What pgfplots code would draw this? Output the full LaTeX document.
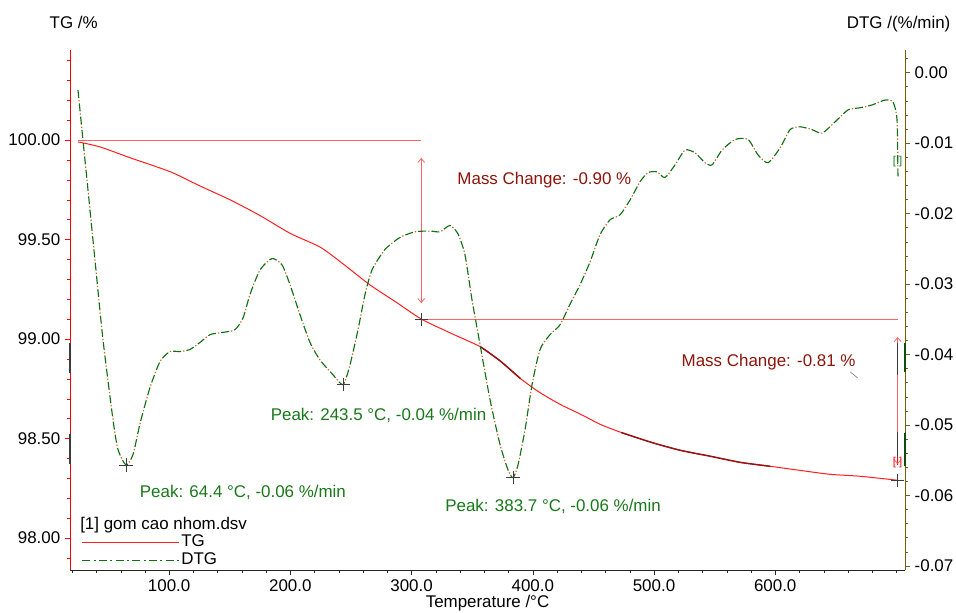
\documentclass[border=0pt]{standalone}
\usepackage{fontspec}
\setmainfont{Liberation Sans}
\usepackage{pgfplots}
\usepackage{pgfplotstable}
\pgfplotsset{compat=1.18}
\usetikzlibrary{arrows.meta}
\definecolor{tgred}{RGB}{255,30,30}
\definecolor{darkseg}{RGB}{150,20,20}
\definecolor{reflred}{RGB}{255,100,100}
\definecolor{dtggreen}{RGB}{20,110,20}
\definecolor{dtgdot}{RGB}{225,90,40}
\definecolor{peakgreen}{RGB}{25,120,25}
\definecolor{masscol}{RGB}{140,20,10}
\definecolor{rightax}{RGB}{115,95,0}
\definecolor{markgray}{RGB}{60,60,60}

\pgfplotstableread{
T TG
25 99.99
43 99.965
68 99.91
101 99.84
125 99.77
150 99.70
175 99.62
200 99.53
225 99.46
245 99.37
266 99.27
286 99.19
308 99.10
332 99.03
357 98.96
373 98.89
390 98.80
406 98.73
423 98.67
440 98.62
456 98.57
473 98.53
498 98.48
522 98.44
547 98.41
571 98.38
596 98.36
620 98.34
645 98.32
670 98.31
701 98.29
}\tgdata

\pgfplotstableread{
T DTG
24.8 -0.0025
28.9 -0.0096
32.2 -0.0152
38.8 -0.0266
45.4 -0.0379
53.7 -0.0493
57.8 -0.0535
64.4 -0.0557
70.2 -0.0542
76.0 -0.0498
84.2 -0.0447
92.5 -0.0410
100.7 -0.0396
109.0 -0.0396
117.2 -0.0393
125.5 -0.0383
133.7 -0.0372
143.6 -0.0369
154.3 -0.0365
161.0 -0.0348
166.7 -0.0315
175.0 -0.0280
184.9 -0.0264
193.1 -0.0273
199.7 -0.0301
208.0 -0.0344
216.2 -0.0383
224.5 -0.0408
235.2 -0.0429
243.5 -0.0443
249.2 -0.0415
255.8 -0.0365
261.6 -0.0315
267.4 -0.0280
278.1 -0.0251
290.5 -0.0234
302.9 -0.0226
315.2 -0.0225
323.5 -0.0226
331.7 -0.0217
338.3 -0.0229
344.1 -0.0259
349.9 -0.0323
356.5 -0.0386
364.7 -0.0464
373.0 -0.0528
379.6 -0.0564
383.7 -0.0575
387.8 -0.0557
393.6 -0.0507
399.4 -0.0443
406.0 -0.0393
414.2 -0.0372
422.5 -0.0358
430.7 -0.0329
439.0 -0.0301
447.2 -0.0269
455.5 -0.0230
463.7 -0.0209
472.0 -0.0202
480.2 -0.0181
488.5 -0.0155
495.1 -0.0142
502.5 -0.0141
509.1 -0.0149
517.4 -0.0131
525.6 -0.0110
533.9 -0.0114
542.1 -0.0128
547.9 -0.0131
556.2 -0.0110
566.9 -0.0095
577.6 -0.0095
585.9 -0.0117
594.1 -0.0128
604.0 -0.0107
612.3 -0.0081
620.5 -0.0077
630.4 -0.0081
638.7 -0.0086
649.4 -0.0070
660.1 -0.0053
670.0 -0.0050
679.9 -0.0046
690.6 -0.0039
697.2 -0.0042
700.5 -0.0067
701.3 -0.0150
}\dtgdata

\begin{document}
\begin{tikzpicture}
\pgfplotsset{
  every axis/.append style={
    scale only axis, width=626.25pt, height=390pt,
    xmin=18.2, xmax=707.1,
    font=\fontsize{12.7}{15}\selectfont,
    tick align=outside,
    major tick length=3.75pt, minor tick length=2.25pt,
    /pgf/number format/assume math mode=true,
    scaled ticks=false,
    clip=false,
  },
}
\begin{axis}[name=ax,
  ymin=97.839, ymax=100.452,
  axis x line*=bottom, axis y line*=left,
  x axis line style={draw=black!85, -}, y axis line style={draw=red, -},
  xtick={100,200,300,400,500,600},
  minor xtick={20,40,...,700},
  ytick={98,98.5,99,99.5,100},
  minor ytick={97.9,98.1,98.2,98.3,98.4,98.6,98.7,98.8,98.9,99.1,99.2,99.3,99.4,99.6,99.7,99.8,99.9,100.1,100.2,100.3,100.4},
  xticklabel style={/pgf/number format/.cd, fixed, fixed zerofill, precision=1},
  yticklabel style={/pgf/number format/.cd, fixed, fixed zerofill, precision=2},
  x tick style={black!85}, y tick style={red},
  xlabel={Temperature /°C}, ylabel={TG /\%},
  every axis x label/.style={at={(axis description cs:0.5,-0.073)}, anchor=base},
  every axis y label/.style={at={(axis description cs:-0.03,1.042)}, anchor=base west},
  legend style={at={(axis description cs:0.014,0.071)}, anchor=north west, draw=none, fill=none,
    inner sep=0pt, row sep=0pt, font=\fontsize{12.7}{15}\selectfont,
    nodes={inner sep=1pt, text height=9pt, text depth=2.5pt}},
  legend cell align=left,
  legend image code/.code={\draw[#1] (0pt,0pt) -- (72.75pt,0pt);},
]
\addplot[tgred, line width=0.75pt, smooth, tension=0.4] table[x=T,y=TG] {\tgdata};
\addlegendentry{TG}
\addlegendimage{dtggreen, line width=0.8pt, dash pattern=on 6pt off 2.5pt on 1.5pt off 2.5pt}
\addlegendentry{DTG}
\addplot[darkseg, line width=1.1pt, smooth, tension=0.4, forget plot, restrict x to domain=355:395] table[x=T,y=TG] {\tgdata};
\addplot[darkseg, line width=1.1pt, smooth, tension=0.4, forget plot, restrict x to domain=470:600] table[x=T,y=TG] {\tgdata};
% reference lines and arrows
\draw[reflred, line width=0.6pt] (axis cs:25,100) -- (axis cs:308,100);
\draw[reflred, line width=0.6pt] (axis cs:308,99.10) -- (axis cs:701,99.10);
\draw[reflred, line width=0.6pt, {Straight Barb[length=3pt,width=5pt]}-{Straight Barb[length=3pt,width=5pt]}] (axis cs:308,99.91) -- (axis cs:308,99.18);
\draw[reflred, line width=0.6pt, {Straight Barb[length=3pt,width=5pt]}-{Straight Barb[length=3pt,width=5pt]}] (axis cs:701,99.01) -- (axis cs:701,98.37);
\draw[markgray, line width=0.7pt] (axis cs:701,98.98) -- (axis cs:701,98.82);
\draw[markgray, line width=0.7pt] (axis cs:701,98.53) -- (axis cs:701,98.39);
\addplot[only marks, mark=+, mark size=4.9pt, markgray, line width=0.7pt, forget plot] coordinates {(308,99.10) (701,98.29)};
% left axis markers
\draw[markgray, line width=1.6pt] (axis cs:18.2,98.98) -- (axis cs:18.2,98.83);
\draw[markgray, line width=1.6pt] (axis cs:18.2,98.52) -- (axis cs:18.2,98.37);
% texts
\node[anchor=base west, masscol] at (axis cs:334,99.774) {Mass Change: -0.90 \%};
\node[anchor=base west, masscol] at (axis cs:519,98.864) {Mass Change: -0.81 \%};
\draw[gray, line width=0.5pt] (axis cs:662,98.834) -- (axis cs:668,98.804);
\node[anchor=base west, peakgreen] at (axis cs:180,98.588) {Peak: 243.5 °C, -0.04 \%/min};
\node[anchor=base west, peakgreen] at (axis cs:72,98.201) {Peak: 64.4 °C, -0.06 \%/min};
\node[anchor=base west, peakgreen] at (axis cs:324,98.131) {Peak: 383.7 °C, -0.06 \%/min};
\node[peakgreen, font=\fontsize{8.5}{9}\selectfont, inner sep=0pt] at (axis cs:701,99.889) {[!]};
\node[red, font=\fontsize{8.5}{9}\selectfont, inner sep=0pt] at (axis cs:701,98.377) {[!]};
\node[anchor=base west, inner sep=0pt] at (axis description cs:0.012,0.077) {[1] gom cao nhom.dsv};
\end{axis}

\begin{axis}[
  ymin=-0.0706, ymax=0.0032,
  axis x line=none, axis y line*=right,
  y axis line style={draw=rightax, -},
  yticklabel pos=right,
  ytick={-0.07,-0.06,-0.05,-0.04,-0.03,-0.02,-0.01,0},
  minor ytick={-0.068,-0.066,-0.064,-0.062,-0.058,-0.056,-0.054,-0.052,-0.048,-0.046,-0.044,-0.042,-0.038,-0.036,-0.034,-0.032,-0.028,-0.026,-0.024,-0.022,-0.018,-0.016,-0.014,-0.012,-0.008,-0.006,-0.004,-0.002,0.002},
  y tick style={rightax},
  yticklabel style={/pgf/number format/.cd, fixed, fixed zerofill, precision=2},
  ylabel={DTG /(\%/min)},
  every axis y label/.style={at={(axis description cs:1.06,1.042)}, anchor=base east},
]
\addplot[dtggreen, line width=0.85pt, smooth, tension=0.4, dash pattern=on 6pt off 4pt] table[x=T,y=DTG] {\dtgdata};
\addplot[dtgdot, line width=0.85pt, smooth, tension=0.4, dash pattern=on 1pt off 9pt, dash phase=2.5pt] table[x=T,y=DTG] {\dtgdata};
\addplot[only marks, mark=+, mark size=4.9pt, markgray, line width=0.7pt] coordinates {(64.4,-0.0557) (243.5,-0.0443) (383.7,-0.0575)};
\draw[dtggreen!70!black, line width=1.6pt] (axis cs:707.1,-0.0384) -- (axis cs:707.1,-0.0425);
\draw[dtggreen!70!black, line width=1.6pt] (axis cs:707.1,-0.0511) -- (axis cs:707.1,-0.0559);
\end{axis}
\pgfresetboundingbox
\path ([shift={(-52.5pt,-32.25pt)}]ax.south west) rectangle ([shift={(38.25pt,37.5pt)}]ax.north east);
\end{tikzpicture}
\end{document}
